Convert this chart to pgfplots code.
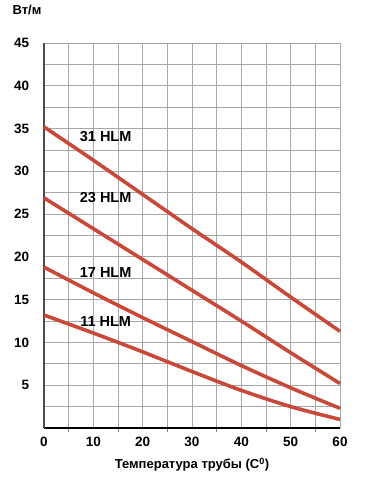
\documentclass[border=0pt]{standalone}
\usepackage{fontspec}
\setmainfont{Liberation Sans}
\usepackage{pgfplots}
\pgfplotsset{compat=1.18}
\definecolor{curve}{RGB}{200,72,58}
\definecolor{gridc}{RGB}{168,168,168}
\begin{document}
\begin{tikzpicture}
\path[use as bounding box] (-44pt,-53pt) rectangle (327pt,428pt);
\begin{axis}[
  at={(0,0)}, anchor=south west,
  scale only axis, width=296pt, height=385pt,
  xmin=0, xmax=60, ymin=0, ymax=45,
  clip=false,
  axis lines*=left,
  x axis line style={black, line width=1.3pt, -},
  y axis line style={black!70, line width=1.8pt, -},
  xtick={0,10,...,60}, minor xtick={5,15,...,55},
  ytick={5,10,...,45}, minor ytick={2.5,7.5,...,42.5},
  grid=both,
  major grid style={gridc, line width=0.8pt},
  minor grid style={gridc, line width=0.8pt},
  tick align=outside,
  x tick style={black!50, line width=0.8pt},
  major x tick style={draw=none},
  minor x tick style={black!50, line width=0.8pt},
  minor tick length=4pt,
  y tick style={draw=none},
  /pgf/number format/assume math mode=true,
  ticklabel style={font=\fontsize{13.5}{15}\selectfont\bfseries},
  yticklabel style={xshift=-7pt},
  xticklabel style={yshift=-1pt},
  xlabel={Температура трубы (C\textsuperscript{0})},
  xlabel style={font=\fontsize{13}{15}\selectfont\bfseries, yshift=-5pt},
]
\addplot[curve, line width=3.6pt, smooth] coordinates {(0,35.2)(10,31.3)(20,27.3)(30,23.3)(40,19.4)(50,15.3)(60,11.3)};
\addplot[curve, line width=3.6pt, smooth] coordinates {(0,26.9)(10,23.3)(20,19.7)(30,16.1)(40,12.5)(50,8.8)(60,5.2)};
\addplot[curve, line width=3.6pt, smooth] coordinates {(0,18.8)(10,15.8)(20,12.9)(30,10.1)(40,7.3)(50,4.7)(60,2.3)};
\addplot[curve, line width=3.6pt, smooth] coordinates {(0,13.2)(10,11.1)(20,8.9)(30,6.6)(40,4.4)(50,2.5)(60,1.0)};
\node[font=\fontsize{14.5}{16}\selectfont\bfseries] at (axis cs:12.5,34.1) {31 HLM};
\node[font=\fontsize{14.5}{16}\selectfont\bfseries] at (axis cs:12.5,26.9) {23 HLM};
\node[font=\fontsize{14.5}{16}\selectfont\bfseries] at (axis cs:12.5,18.2) {17 HLM};
\node[font=\fontsize{14.5}{16}\selectfont\bfseries] at (axis cs:12.5,12.45) {11 HLM};
\node[font=\fontsize{13}{15}\selectfont\bfseries] at (rel axis cs:0,1) [xshift=-17pt, yshift=33pt] {Вт/м};
\end{axis}
\end{tikzpicture}
\end{document}
